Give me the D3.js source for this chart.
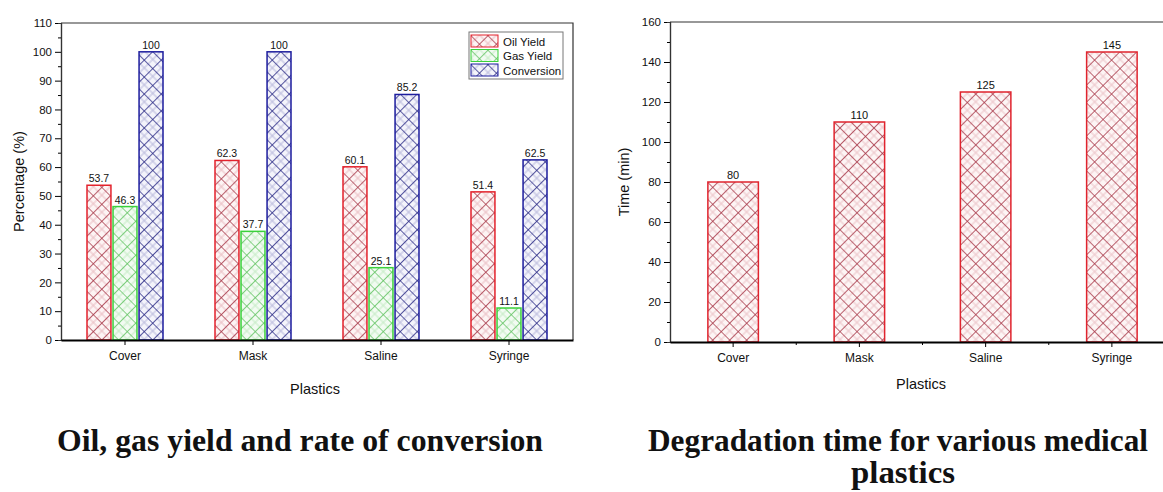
<!DOCTYPE html>
<html>
<head>
<meta charset="utf-8">
<script src="https://cdn.jsdelivr.net/npm/d3@7"></script>
<style>
  body { margin: 0; background: #fff; }
  text { font-family: "Liberation Sans", Arial, sans-serif; fill: #111; }
  .caption { font-family: "Liberation Serif", "Times New Roman", serif; font-weight: bold; }
</style>
</head>
<body>
<div id="viz"></div>
<script>
// data
const categories = ["Cover", "Mask", "Saline", "Syringe"]
const seriesNames = ["Oil Yield", "Gas Yield", "Conversion"]
const oilYield = [53.7, 62.3, 60.1, 51.4]
const gasYield = [46.3, 37.7, 25.1, 11.1]
const conversion = [100, 100, 85.2, 62.5]
const degradationTime = [80, 110, 125, 145]
const leftTicks = [0, 10, 20, 30, 40, 50, 60, 70, 80, 90, 100, 110]
const rightTicks = [0, 20, 40, 60, 80, 100, 120, 140, 160]

const width = 1163
const height = 492

const svg = d3.select("#viz").append("svg").attr("width", width).attr("height", height)
const defs = svg.append("defs")

// crosshatch pattern like Origin's, dark + light diagonal lines
function hatch(id, bg, dark, light, size) {
    const p = defs.append("pattern").attr("id", id)
        .attr("patternUnits", "userSpaceOnUse")
        .attr("width", size).attr("height", size)
        .attr("patternTransform", "rotate(45)")
    p.append("rect").attr("width", size).attr("height", size).attr("fill", bg)
    const h = size / 2
    p.append("path").attr("d", `M${h},0V${size}M0,${h}H${size}`).attr("stroke", light).attr("stroke-width", 1)
    p.append("path").attr("d", `M0,0V${size}M0,0H${size}`).attr("stroke", dark).attr("stroke-width", 1.6)
}
hatch("h-oil", "#fdf4f4", "#a8394a", "#e9bcc2", 12)
hatch("h-gas", "#f2fbf2", "#63c463", "#c4ebc4", 12)
hatch("h-conv", "#f4f4fb", "#2b2b86", "#b9b9dc", 12)
hatch("h-time", "#fdf5f5", "#a8394a", "#ecc3c8", 12)

const strokes = ["#e3222c", "#3bd13b", "#1d1d9e"]
const fills = ["url(#h-oil)", "url(#h-gas)", "url(#h-conv)"]

// ---------- left chart ----------
const L = {left: 61, right: 573, top: 23, bottom: 340}
const x0 = d3.scaleBand().domain(categories).range([L.left, L.right]).padding(0)
const x1 = d3.scaleBand().domain(seriesNames).range([26, 102]).paddingInner(0.08)
const yL = d3.scaleLinear().domain([0, 110]).range([L.bottom, L.top])

const left = svg.append("g")

// frame top + right
left.append("path")
    .attr("d", `M${L.left},${L.top}H${L.right}V${L.bottom}`)
    .attr("fill", "none").attr("stroke", "#333").attr("stroke-width", 1.2)

const leftData = categories.map((c, i) => ({cat: c, values: [oilYield[i], gasYield[i], conversion[i]]}))

const groups = left.append("g").selectAll("g")
    .data(leftData).join("g")
    .attr("transform", d => `translate(${x0(d.cat) - L.left},0)`)

groups.selectAll("rect")
    .data(d => d.values.map((v, j) => ({s: seriesNames[j], v: v, j: j})))
    .join("rect")
    .attr("x", d => L.left + x1(d.s))
    .attr("y", d => yL(d.v))
    .attr("width", x1.bandwidth())
    .attr("height", d => yL(0) - yL(d.v))
    .attr("fill", d => fills[d.j])
    .attr("stroke", d => strokes[d.j])
    .attr("stroke-width", 1.5)

groups.selectAll("text")
    .data(d => d.values.map((v, j) => ({s: seriesNames[j], v: v})))
    .join("text")
    .attr("x", d => L.left + x1(d.s) + x1.bandwidth() / 2)
    .attr("y", d => yL(d.v) - 3)
    .attr("text-anchor", "middle")
    .attr("font-size", 10.5)
    .text(d => d.v)

// y axis
const yAxisL = left.append("g").attr("transform", `translate(${L.left},0)`)
    .call(d3.axisLeft(yL).tickValues(leftTicks).tickSize(6).tickPadding(3))
yAxisL.append("g").call(d3.axisLeft(yL).tickValues(d3.range(5, 110, 10)).tickSize(3).tickFormat(""))
yAxisL.selectAll("text").attr("font-size", 11.5).attr("fill", "#111")
yAxisL.selectAll(".domain").attr("stroke", "#333").attr("stroke-width", 1.2)

// x axis
const xAxisL = left.append("g").attr("transform", `translate(0,${L.bottom})`)
    .call(d3.axisBottom(x0).tickSize(5).tickPadding(6).tickSizeOuter(0))
xAxisL.selectAll("text").attr("font-size", 12).attr("fill", "#111")
xAxisL.select(".domain").attr("stroke", "#000").attr("stroke-width", 2)

left.append("text").attr("x", 315).attr("y", 394).attr("text-anchor", "middle")
    .attr("font-size", 14.5).text("Plastics")
left.append("text").attr("transform", `translate(24,${(L.top + L.bottom) / 2}) rotate(-90)`)
    .attr("text-anchor", "middle").attr("font-size", 14.5).text("Percentage (%)")

// legend
const legend = left.append("g").attr("transform", "translate(469,32)")
legend.append("rect").attr("width", 94).attr("height", 47)
    .attr("fill", "#fff").attr("stroke", "#777").attr("stroke-width", 1)
seriesNames.forEach((s, i) => {
    const row = legend.append("g").attr("transform", `translate(2,${3 + i * 14.5})`)
    row.append("rect").attr("width", 27).attr("height", 12)
        .attr("fill", fills[i]).attr("stroke", strokes[i]).attr("stroke-width", 1)
    row.append("text").attr("x", 32).attr("y", 10.5).attr("font-size", 11.5).text(s)
})

// ---------- right chart ----------
const R = {left: 670, right: 1175, top: 22, bottom: 342}
const xR = d3.scaleBand().domain(categories).range([R.left, R.right]).paddingInner(0.6).paddingOuter(0.3)
const yR = d3.scaleLinear().domain([0, 160]).range([R.bottom, R.top])

const right = svg.append("g")
right.append("path")
    .attr("d", `M${R.left},${R.top}H${R.right + 20}`)
    .attr("fill", "none").attr("stroke", "#333").attr("stroke-width", 1.2)

right.append("g").selectAll("rect")
    .data(degradationTime).join("rect")
    .attr("x", (d, i) => xR(categories[i]))
    .attr("y", d => yR(d))
    .attr("width", xR.bandwidth())
    .attr("height", d => yR(0) - yR(d))
    .attr("fill", "url(#h-time)")
    .attr("stroke", "#e0242e")
    .attr("stroke-width", 1.5)

right.append("g").selectAll("text")
    .data(degradationTime).join("text")
    .attr("x", (d, i) => xR(categories[i]) + xR.bandwidth() / 2)
    .attr("y", d => yR(d) - 3)
    .attr("text-anchor", "middle")
    .attr("font-size", 11)
    .text(d => d)

const yAxisR = right.append("g").attr("transform", `translate(${R.left},0)`)
    .call(d3.axisLeft(yR).tickValues(rightTicks).tickSize(6).tickPadding(3))
yAxisR.append("g").call(d3.axisLeft(yR).tickValues(d3.range(10, 160, 20)).tickSize(3).tickFormat(""))
yAxisR.selectAll("text").attr("font-size", 11.5).attr("fill", "#111")
yAxisR.selectAll(".domain").attr("stroke", "#333").attr("stroke-width", 1.2)

const xAxisR = right.append("g").attr("transform", `translate(0,${R.bottom})`)
    .call(d3.axisBottom(xR).tickSize(5).tickPadding(6).tickSizeOuter(0))
xAxisR.selectAll("text").attr("font-size", 12).attr("fill", "#111")
xAxisR.select(".domain").attr("stroke", "#000").attr("stroke-width", 2)
// minor ticks between the categories
const stepR = xR.step()
xAxisR.append("g").selectAll("line")
    .data(categories).join("line")
    .attr("x1", d => xR(d) + xR.bandwidth() / 2 + stepR / 2)
    .attr("x2", d => xR(d) + xR.bandwidth() / 2 + stepR / 2)
    .attr("y1", 0).attr("y2", 3)
    .attr("stroke", "#000")

right.append("text").attr("x", 921).attr("y", 389).attr("text-anchor", "middle")
    .attr("font-size", 14.5).text("Plastics")
right.append("text").attr("transform", `translate(629,${(R.top + R.bottom) / 2}) rotate(-90)`)
    .attr("text-anchor", "middle").attr("font-size", 14.5).text("Time (min)")

// ---------- captions ----------
svg.append("text").attr("class", "caption").attr("x", 300).attr("y", 451)
    .attr("text-anchor", "middle").attr("font-size", 32)
    .attr("textLength", 486).attr("lengthAdjust", "spacingAndGlyphs")
    .text("Oil, gas yield and rate of conversion")
svg.append("text").attr("class", "caption").attr("x", 898).attr("y", 451)
    .attr("text-anchor", "middle").attr("font-size", 32)
    .attr("textLength", 500).attr("lengthAdjust", "spacingAndGlyphs")
    .text("Degradation time for various medical")
svg.append("text").attr("class", "caption").attr("x", 903).attr("y", 483)
    .attr("text-anchor", "middle").attr("font-size", 31)
    .attr("textLength", 104).attr("lengthAdjust", "spacingAndGlyphs")
    .text("plastics")
</script>
</body>
</html>
